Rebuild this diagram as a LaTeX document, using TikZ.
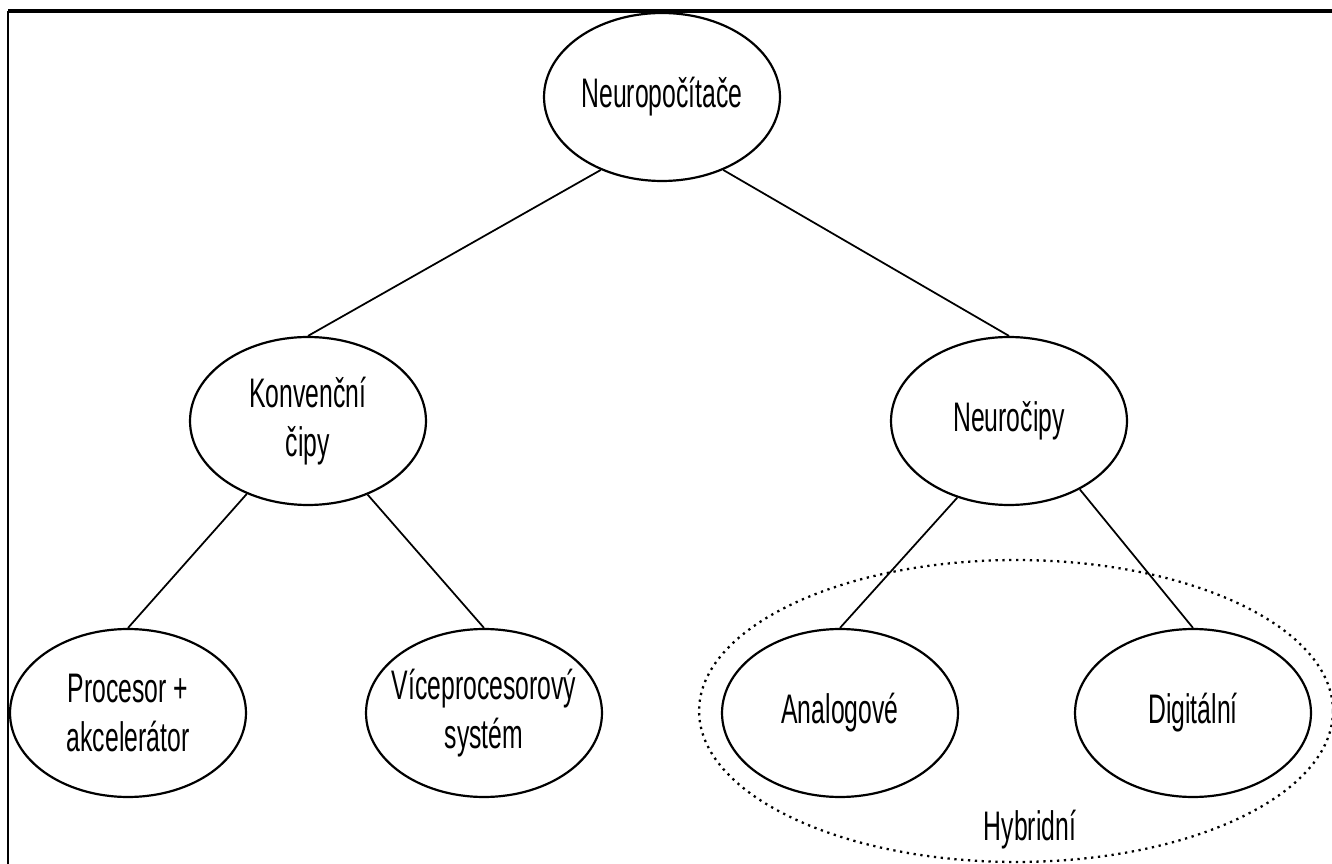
\documentclass[tikz,border=0pt]{standalone}
\usepackage{fontspec}
\setmainfont{Liberation Sans}[FakeStretch=0.6]
\usepackage{tikz}
\usetikzlibrary{shapes.geometric}

\tikzset{
	oval/.style={draw, ellipse, line width=1.25pt, minimum width=4.72cm, minimum height=3.36cm,
		inner xsep=-12pt, inner ysep=0pt, align=center, font=\fontsize{23.5}{27.8}\selectfont},
	hybridbox/.style={draw, ellipse, line width=1.3pt, dash pattern=on 1.3pt off 2.6pt,
		minimum width=12.68cm, minimum height=6.04cm},
	spoj/.style={line width=1pt}
}

\begin{document}
\begin{tikzpicture}[x=0.02cm, y=-0.02cm]
	
	\useasboundingbox (0,0) rectangle (1332,864);
	
	%//frame, cut at the right and at the bottom
	\draw[line width=2pt] (8,11) -- (1332,11);
	\draw[line width=1.3pt] (8,11) -- (8,864);
	
	\node[oval] (neuro) at (662,97) {Neuropočítače};
	
	\node[oval] (konv) at (308,421) {Konvenční\\čipy};
	\node[oval] (neurocip) at (1009,421) {Neuročipy};
	
	\node[oval] (procesor) at (128,713) {Procesor +\\akcelerátor};
	\node[oval] (vice) at (484,713) {Víceprocesorový\\systém};
	\node[oval] (analog) at (840,713) {Analogové};
	\node[oval] (digital) at (1193,713) {Digitální};
	
	\node[hybridbox] (hybrid) at (1016,711) {};
	\node[anchor=base, font=\fontsize{23.5}{27.8}\selectfont] (hyblabel) at (1030,840) {Hybridní};
	
	\foreach \a/\b in {neuro.230/konv.north, neuro.310/neurocip.north,
		konv.230/procesor.north, konv.309/vice.north,
		neurocip.236/analog.north, neurocip.316/digital.north}
	\draw[spoj] (\a) -- (\b);
	
\end{tikzpicture}
\end{document}
